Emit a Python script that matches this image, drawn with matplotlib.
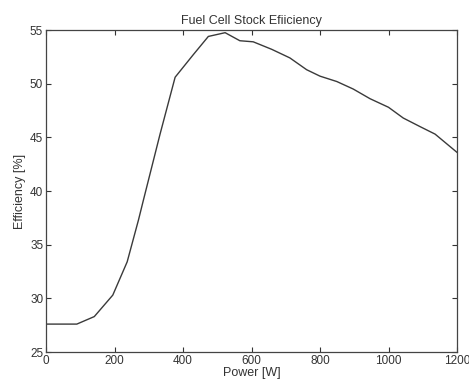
import matplotlib
matplotlib.use("Agg")
import matplotlib.pyplot as plt

# data
power = [0, 90, 141, 195, 237, 270, 284, 333, 377, 430, 474, 523, 566, 605,
         659, 712, 761, 800, 849, 897, 946, 1000, 1043, 1092, 1136, 1200]
efficiency = [27.6, 27.6, 28.3, 30.3, 33.4, 37.3, 39.1, 45.3, 50.6, 52.7, 54.4,
              54.75, 54.0, 53.9, 53.2, 52.4, 51.3, 50.7, 50.2, 49.5, 48.6,
              47.8, 46.8, 46.0, 45.3, 43.6]
xticks = [0, 200, 400, 600, 800, 1000, 1200]
yticks = [25, 30, 35, 40, 45, 50, 55]

plt.rcParams['font.family'] = ['Liberation Sans', 'DejaVu Sans']
plt.rcParams['font.size'] = 8.5

fig = plt.figure(figsize=(4.69, 3.86), dpi=100)
ax = fig.add_axes([46 / 469, 1 - 352 / 386, 411 / 469, 322 / 386])

ax.plot(power, efficiency, color='#3a3a3a', linewidth=1.0)

ax.set_xlim(0, 1200)
ax.set_ylim(25, 55)
ax.set_xticks(xticks)
ax.set_yticks(yticks)
ax.tick_params(direction='in', length=3.5, width=0.8, colors='#333333',
               top=True, right=True, labelcolor='#333333', pad=2)
for s in ax.spines.values():
    s.set_color('#444444')
    s.set_linewidth(0.9)

ax.set_title('Fuel Cell Stock Efiiciency', fontsize=9, color='#333333', pad=4)
ax.set_xlabel('Power [W]', fontsize=9, color='#333333', labelpad=0)
ax.set_ylabel('Efficiency [%]', fontsize=9, color='#333333', labelpad=3)

fig.savefig('out.png', dpi=100)
